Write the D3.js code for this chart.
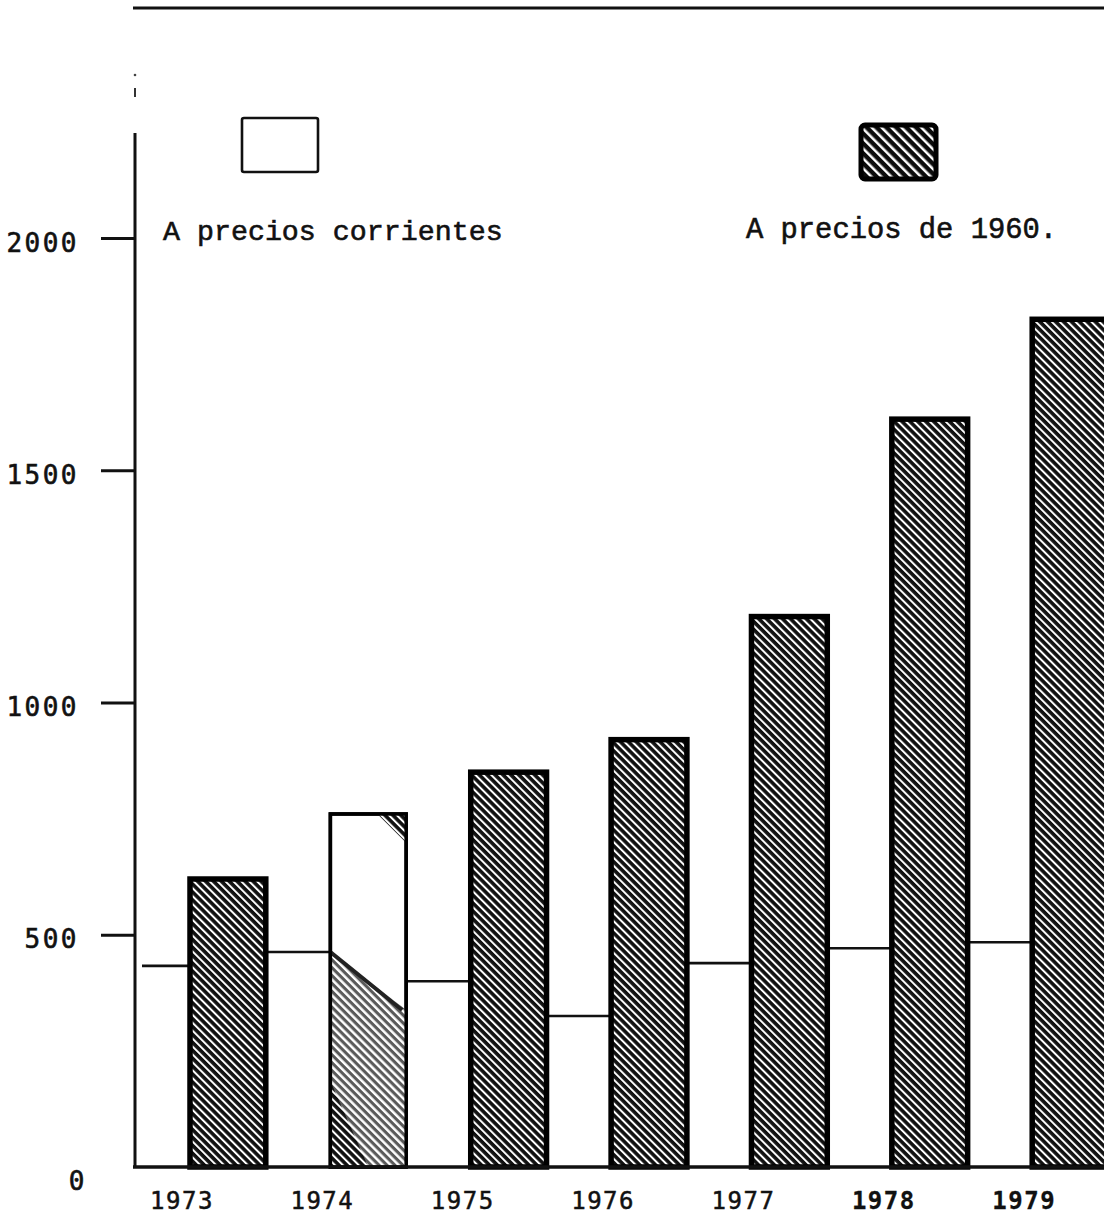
<!DOCTYPE html>
<html><head><meta charset="utf-8">
<script src="https://cdn.jsdelivr.net/npm/d3@7"></script>
<style>
html,body{margin:0;padding:0;background:#fff;}
svg{display:block;}
</style></head><body>
<script>
// ---- data ----
const years = ["1973","1974","1975","1976","1977","1978","1979"];
const barValues = [620, 760, 850, 920, 1185, 1610, 1825];
const stepValues = [433, 463, 400, 325, 439, 471, 484];
const split1974 = [463, 338];
const yTicks = [0, 500, 1000, 1500, 2000];
const legendLabels = ["A precios corrientes", "A precios de 1960."];

// ---- layout ----
const W = 1104, H = 1224;
const axisX = 135, baseY = 1167, topY = 238;
const svg = d3.select("body").append("svg").attr("width", W).attr("height", H);

const y = d3.scaleLinear().domain([0, 2000]).range([baseY, topY]);
const x = d3.scaleBand().domain(years).range([190, 1108]).paddingInner(0.46).paddingOuter(0);

const defs = svg.append("defs");
function hatch(id, size, white, bg) {
  const p = defs.append("pattern").attr("id", id).attr("patternUnits", "userSpaceOnUse")
    .attr("width", size).attr("height", size).attr("patternTransform", "rotate(-45)");
  p.append("rect").attr("width", size).attr("height", size).attr("fill", bg);
  p.append("rect").attr("width", white).attr("height", size).attr("fill", "#fff");
}
hatch("hatch", 5.6, 2.0, "#111");
hatch("hatchLight", 5.6, 2.5, "#5a5a5a");
hatch("hatchLegend", 7, 2.5, "#0c0c0c");

// frame lines
svg.append("line").attr("x1", axisX - 2).attr("x2", W).attr("y1", 8).attr("y2", 8)
  .attr("stroke", "#111").attr("stroke-width", 3);
svg.append("line").attr("x1", axisX).attr("x2", axisX).attr("y1", baseY + 1).attr("y2", 133)
  .attr("stroke", "#111").attr("stroke-width", 3);
svg.append("line").attr("x1", axisX).attr("x2", axisX).attr("y1", 88).attr("y2", 97)
  .attr("stroke", "#333").attr("stroke-width", 2);
svg.append("circle").attr("cx", axisX).attr("cy", 75).attr("r", 1.3).attr("fill", "#444");

// y axis
const yAxis = d3.axisLeft(y).tickValues(yTicks).tickSize(34).tickPadding(22).tickFormat(d3.format("d"));
const gy = svg.append("g").attr("transform", `translate(${axisX},0)`).call(yAxis);
gy.select(".domain").remove();
gy.selectAll(".tick line").attr("stroke", "#111").attr("stroke-width", 3.2)
  .attr("display", d => d === 0 ? "none" : null);
gy.selectAll(".tick text")
  .attr("font-family", "'DejaVu Sans Mono', monospace").attr("font-size", 26)
  .attr("letter-spacing", 2.5).attr("fill", "#111").attr("stroke", "#111").attr("stroke-width", 0.6)
  .attr("dy", "0.5em");
gy.selectAll(".tick").filter(d => d === 0).select("text").attr("dy", "0.85em").attr("x", -48);

// step line (values at constant prices) in gaps before each bar
const segs = years.map((d, i) => ({
  x1: i === 0 ? axisX + 7 : x(years[i - 1]) + x.bandwidth(),
  x2: x(d),
  v: stepValues[i]
}));
svg.selectAll(".seg").data(segs).join("line").attr("class", "seg")
  .attr("x1", d => d.x1).attr("x2", d => d.x2)
  .attr("y1", d => y(d.v)).attr("y2", d => y(d.v))
  .attr("stroke", "#111").attr("stroke-width", 2.6);

// bars
const bw = x.bandwidth();
svg.selectAll(".bar").data(years).join("rect").attr("class", "bar")
  .attr("x", d => x(d)).attr("y", (d, i) => y(barValues[i]))
  .attr("width", bw).attr("height", (d, i) => baseY - y(barValues[i]))
  .attr("fill", (d, i) => i === 1 ? "#fff" : "url(#hatch)")
  .attr("stroke", "#000").attr("stroke-width", (d, i) => i === 1 ? 3.5 : 5.5);

// 1974 bar: hatched lower part under a diagonal, small hatched corner
const x74 = x("1974");
svg.append("path")
  .attr("d", d3.line()([[x74, baseY], [x74, y(split1974[0])], [x74 + bw, y(split1974[1])], [x74 + bw, baseY]]) + "Z")
  .attr("fill", "url(#hatchLight)");
svg.append("path")
  .attr("d", d3.line()([[x74, baseY], [x74, y(split1974[0]) + (baseY - y(split1974[0])) * 0.6], [x74 + bw * 0.5, baseY]]) + "Z")
  .attr("fill", "url(#hatch)");
svg.append("line").attr("x1", x74).attr("x2", x74 + bw - 4)
  .attr("y1", y(split1974[0])).attr("y2", y(split1974[1]))
  .attr("stroke", "#222").attr("stroke-width", 4);
svg.append("path")
  .attr("d", d3.line()([[x74 + bw * 0.62, y(barValues[1])], [x74 + bw, y(barValues[1])], [x74 + bw, y(barValues[1]) + bw * 0.38]]) + "Z")
  .attr("fill", "url(#hatch)");
svg.append("rect").attr("x", x74).attr("y", y(barValues[1])).attr("width", bw)
  .attr("height", baseY - y(barValues[1])).attr("fill", "none").attr("stroke", "#000").attr("stroke-width", 3.5);

// baseline
svg.append("line").attr("x1", axisX - 2).attr("x2", W).attr("y1", baseY).attr("y2", baseY)
  .attr("stroke", "#111").attr("stroke-width", 3.5);

// x labels
svg.selectAll(".xl").data(years).join("text").attr("class", "xl")
  .attr("x", d => x(d) - 8).attr("y", 1209).attr("text-anchor", "middle")
  .attr("font-family", "'DejaVu Sans Mono', monospace").attr("font-size", 24)
  .attr("letter-spacing", 1.5).attr("fill", "#111").attr("stroke", "#111")
  .attr("stroke-width", (d, i) => i >= 5 ? 0.3 : 0.5)
  .attr("font-weight", (d, i) => i >= 5 ? "bold" : "normal")
  .text(d => d);

// legend
svg.append("rect").attr("x", 242).attr("y", 118).attr("width", 76).attr("height", 54).attr("rx", 2)
  .attr("fill", "#fff").attr("stroke", "#111").attr("stroke-width", 2.6);
svg.append("rect").attr("x", 861).attr("y", 125).attr("width", 75).attr("height", 54).attr("rx", 4)
  .attr("fill", "url(#hatchLegend)").attr("stroke", "#000").attr("stroke-width", 5);
svg.append("text").attr("x", 163).attr("y", 240).text(legendLabels[0])
  .attr("font-family", "'Liberation Mono', monospace").attr("font-size", 28.3).attr("fill", "#111")
  .attr("stroke", "#111").attr("stroke-width", 0.6);
svg.append("text").attr("x", 746).attr("y", 238).text(legendLabels[1])
  .attr("font-family", "'Liberation Mono', monospace").attr("font-size", 28.8).attr("fill", "#111")
  .attr("stroke", "#111").attr("stroke-width", 0.6);
</script>
</body></html>
